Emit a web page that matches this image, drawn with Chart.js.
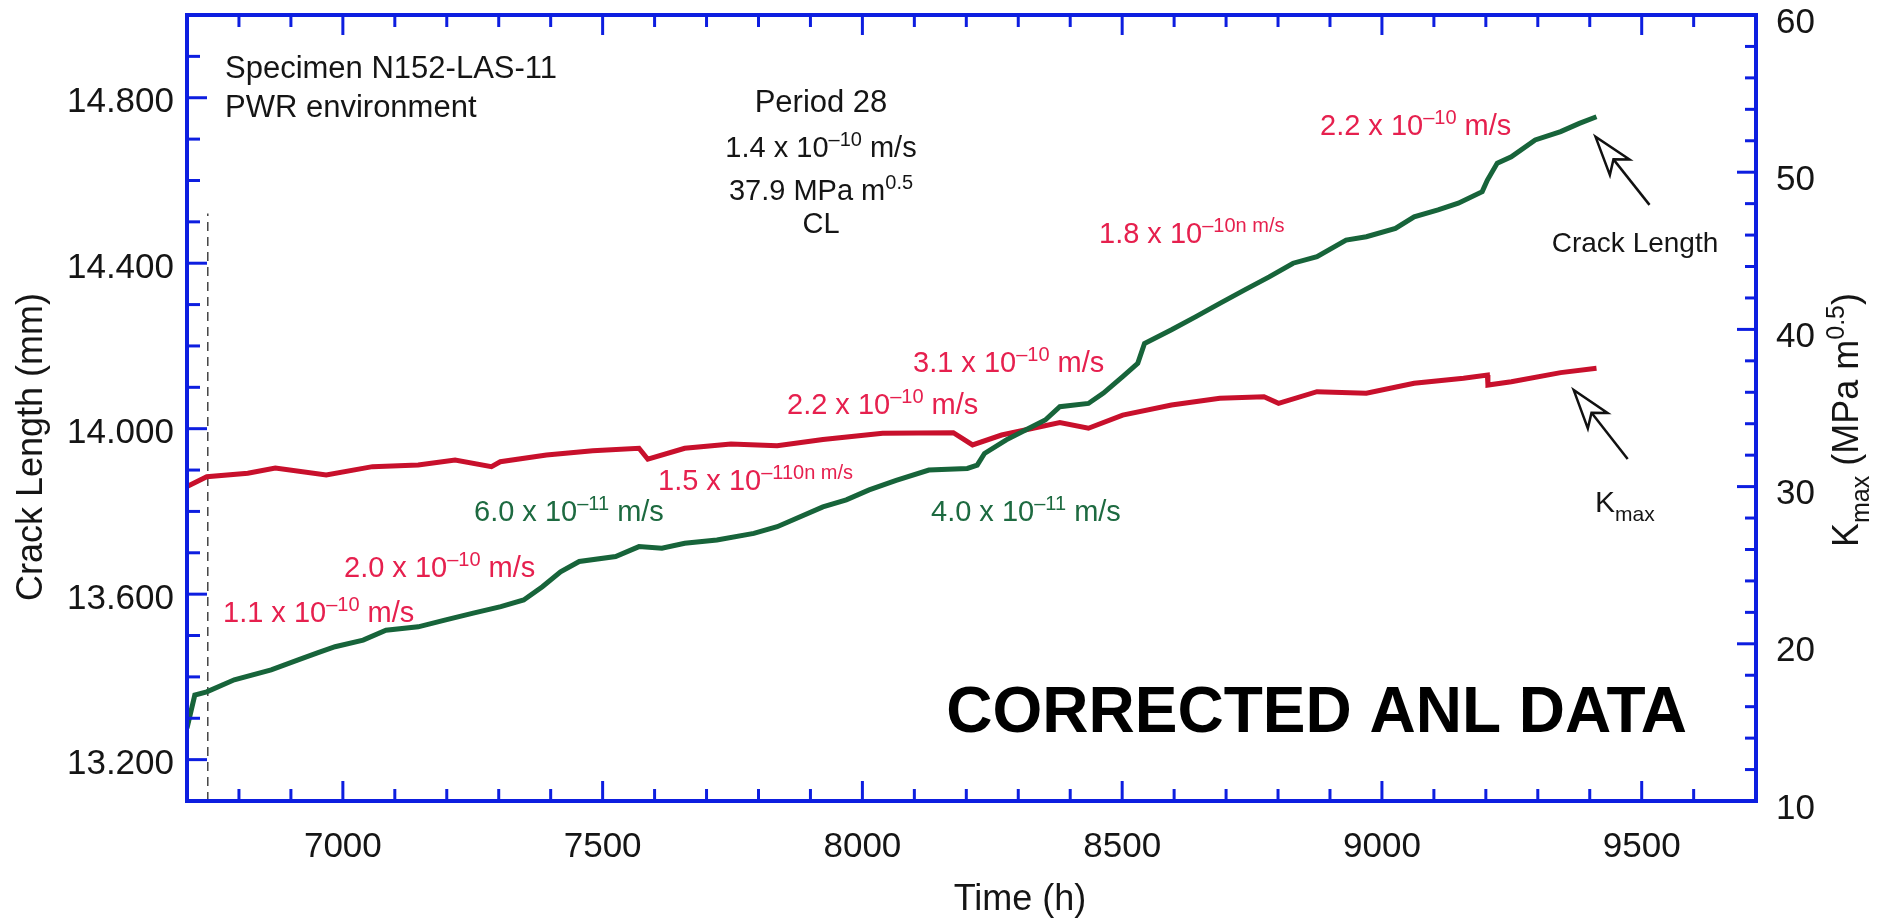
<!DOCTYPE html>
<html>
<head>
<meta charset="utf-8">
<title>Crack length and Kmax vs time</title>
<script src="https://cdn.jsdelivr.net/npm/chart.js@4.4.1/dist/chart.umd.min.js"></script>
<style>
  html, body { margin: 0; padding: 0; background: #fff; }
  #wrap { width: 1877px; height: 922px; position: relative; }
</style>
</head>
<body>
<div id="wrap"><canvas id="chart"></canvas></div>
<script>
// values
const crackTime = [6700, 6715, 6738, 6791, 6862, 6914, 6951, 6985, 7039, 7083, 7145, 7198, 7251, 7304, 7348,
  7384, 7419, 7455, 7525, 7570, 7614, 7658, 7720, 7791, 7836, 7924, 7969, 8013, 8065, 8128, 8202, 8221, 8235,
  8277, 8314, 8352, 8380, 8435, 8464, 8501, 8530, 8543, 8595, 8642, 8688, 8735, 8783, 8829, 8875, 8931, 8970,
  9026, 9062, 9108, 9147, 9193, 9203, 9222, 9249, 9295, 9344, 9380, 9413];
const crackLength = [13.276, 13.356, 13.364, 13.393, 13.417, 13.441, 13.458, 13.473, 13.489, 13.513, 13.521,
  13.538, 13.554, 13.570, 13.586, 13.618, 13.654, 13.679, 13.691, 13.715, 13.711, 13.723, 13.731, 13.747,
  13.763, 13.811, 13.828, 13.852, 13.875, 13.900, 13.904, 13.912, 13.940, 13.973, 13.997, 14.021, 14.053,
  14.061, 14.086, 14.126, 14.158, 14.206, 14.239, 14.271, 14.303, 14.335, 14.367, 14.400, 14.416, 14.456,
  14.464, 14.484, 14.512, 14.529, 14.545, 14.573, 14.601, 14.642, 14.657, 14.698, 14.718, 14.738, 14.754];

const kmaxTime = [6700, 6738, 6817, 6870, 6968, 7057, 7145, 7216, 7286, 7303, 7392, 7481, 7570, 7587, 7658,
  7747, 7836, 7924, 8039, 8175, 8212, 8268, 8380, 8435, 8501, 8595, 8688, 8773, 8801, 8875, 8970, 9062, 9157,
  9203, 9204, 9249, 9344, 9413];
const kmaxValue = [30.0, 30.63, 30.85, 31.18, 30.74, 31.27, 31.37, 31.69, 31.27, 31.58, 32.01, 32.28, 32.44,
  31.74, 32.44, 32.71, 32.6, 33.0, 33.39, 33.43, 32.65, 33.28, 34.07, 33.71, 34.55, 35.19, 35.62, 35.72, 35.3,
  36.04, 35.94, 36.57, 36.89, 37.1, 36.46, 36.67, 37.25, 37.53];

const timeTickLabels = [7000, 7500, 8000, 8500, 9000, 9500];
const crackTickLabels = ['13.200', '13.600', '14.000', '14.400', '14.800'];
const kmaxTickLabels = [10, 20, 30, 40, 50, 60];

// dashed start-of-period marker
const markerTime = [6740, 6740];
const markerCrack = [13.1, 14.52];

const BLUE = '#0d1ee0';
const GREEN = '#17643a';
const RED = '#c8102c';
const LABEL_RED = '#e6204e';
const LABEL_GREEN = '#1d6a40';
const INK = '#151515';
const FONT = '"Liberation Sans", Arial, Helvetica, sans-serif';

const toPoints = (xs, ys) => xs.map((x, i) => ({ x: x, y: ys[i] }));

// text notes, [text, 'sup'|'sub'|undefined]
const notes = [
  { x: 225, y: 78, size: 31, color: INK, parts: [['Specimen N152-LAS-11']] },
  { x: 225, y: 117, size: 31, color: INK, parts: [['PWR environment']] },
  { x: 821, y: 112, size: 31, color: INK, align: 'center', parts: [['Period 28']] },
  { x: 821, y: 157, size: 29, color: INK, align: 'center', parts: [['1.4 x 10'], ['\u201310', 'sup'], [' m/s']] },
  { x: 821, y: 200, size: 29, color: INK, align: 'center', parts: [['37.9 MPa m'], ['0.5', 'sup']] },
  { x: 821, y: 233, size: 29, color: INK, align: 'center', parts: [['CL']] },

  { x: 223, y: 622, size: 29, color: LABEL_RED, parts: [['1.1 x 10'], ['\u201310', 'sup'], [' m/s']] },
  { x: 344, y: 577, size: 29, color: LABEL_RED, parts: [['2.0 x 10'], ['\u201310', 'sup'], [' m/s']] },
  { x: 474, y: 521, size: 29, color: LABEL_GREEN, parts: [['6.0 x 10'], ['\u201311', 'sup'], [' m/s']] },
  { x: 658, y: 490, size: 29, color: LABEL_RED, parts: [['1.5 x 10'], ['\u2013110n m/s', 'sup']] },
  { x: 787, y: 414, size: 29, color: LABEL_RED, parts: [['2.2 x 10'], ['\u201310', 'sup'], [' m/s']] },
  { x: 913, y: 372, size: 29, color: LABEL_RED, parts: [['3.1 x 10'], ['\u201310', 'sup'], [' m/s']] },
  { x: 931, y: 521, size: 29, color: LABEL_GREEN, parts: [['4.0 x 10'], ['\u201311', 'sup'], [' m/s']] },
  { x: 1099, y: 243, size: 29, color: LABEL_RED, parts: [['1.8 x 10'], ['\u201310n m/s', 'sup']] },
  { x: 1320, y: 135, size: 29, color: LABEL_RED, parts: [['2.2 x 10'], ['\u201310', 'sup'], [' m/s']] },

  { x: 1635, y: 252, size: 28, color: INK, align: 'center', parts: [['Crack Length']] },
  { x: 1595, y: 512, size: 30, color: INK, parts: [['K'], ['max', 'sub']] },

  { x: 1020, y: 910, size: 36, color: INK, align: 'center', parts: [['Time (h)']] },
  { x: 42, y: 447, size: 36, color: INK, align: 'center', rotate: true, parts: [['Crack Length (mm)']] },
  { x: 1858, y: 420, size: 36, color: INK, align: 'center', rotate: true,
    parts: [['K'], ['max', 'sub'], [' (MPa m'], ['0.5', 'sup'], [')']] },

  { x: 1687, y: 732, size: 64, color: '#000', align: 'right', bold: true, parts: [['CORRECTED ANL DATA']] }
];

// arrows in data units: from tail to tip
const arrows = [
  { axis: 'y', from: [9515, 14.541], to: [9411, 14.706] },
  { axis: 'y2', from: [9473, 31.76], to: [9369, 36.15] }
];

function partFont(p, size, bold) {
  const s = p[1] ? Math.round(size * 0.7) : size;
  return (bold ? 'bold ' : '') + s + 'px ' + FONT;
}

function drawRich(ctx, note) {
  const size = note.size;
  let total = 0;
  note.parts.forEach(p => {
    ctx.font = partFont(p, size, note.bold);
    total += ctx.measureText(p[0]).width;
  });
  let cx = note.x;
  if (note.align === 'center') cx -= total / 2;
  if (note.align === 'right') cx -= total;
  note.parts.forEach(p => {
    ctx.font = partFont(p, size, note.bold);
    let dy = 0;
    if (p[1] === 'sup') dy = -0.38 * size;
    if (p[1] === 'sub') dy = 0.3 * size;
    ctx.fillText(p[0], cx, dy);
    cx += ctx.measureText(p[0]).width;
  });
}

const notesPlugin = {
  id: 'notes',
  afterDraw(chart) {
    const ctx = chart.ctx;
    ctx.save();
    ctx.textBaseline = 'alphabetic';
    ctx.textAlign = 'left';
    notes.forEach(n => {
      ctx.save();
      ctx.fillStyle = n.color;
      if (n.rotate) {
        ctx.translate(n.x, n.y);
        ctx.rotate(-Math.PI / 2);
        drawRich(ctx, Object.assign({}, n, { x: 0 }));
      } else {
        ctx.translate(0, n.y);
        drawRich(ctx, n);
      }
      ctx.restore();
    });

    // open-headed arrows
    ctx.strokeStyle = '#111';
    ctx.fillStyle = '#fff';
    ctx.lineWidth = 2.5;
    ctx.lineJoin = 'miter';
    arrows.forEach(a => {
      const sx = chart.scales.x, sy = chart.scales[a.axis];
      const x0 = sx.getPixelForValue(a.from[0]), y0 = sy.getPixelForValue(a.from[1]);
      const x1 = sx.getPixelForValue(a.to[0]), y1 = sy.getPixelForValue(a.to[1]);
      const len = Math.hypot(x0 - x1, y0 - y1);
      const ux = (x0 - x1) / len, uy = (y0 - y1) / len;
      const px = -uy, py = ux;
      const headLen = 39, half = 12.5, notch = 29;
      ctx.beginPath();
      ctx.moveTo(x1 + ux * notch, y1 + uy * notch);
      ctx.lineTo(x0, y0);
      ctx.stroke();
      ctx.beginPath();
      ctx.moveTo(x1, y1);
      ctx.lineTo(x1 + ux * headLen + px * half, y1 + uy * headLen + py * half);
      ctx.lineTo(x1 + ux * notch, y1 + uy * notch);
      ctx.lineTo(x1 + ux * headLen - px * half, y1 + uy * headLen - py * half);
      ctx.closePath();
      ctx.fill();
      ctx.stroke();
    });
    ctx.restore();
  }
};

// blue frame with inward ticks on all four sides
const framePlugin = {
  id: 'frame',
  afterDatasetsDraw(chart) {
    const { ctx, chartArea: a, scales } = chart;
    const line = (x1, y1, x2, y2) => { ctx.beginPath(); ctx.moveTo(x1, y1); ctx.lineTo(x2, y2); ctx.stroke(); };
    ctx.save();
    ctx.strokeStyle = BLUE;
    ctx.lineWidth = 3;
    scales.x.ticks.forEach(t => {
      const v = Math.round(t.value);
      if (v <= scales.x.min || v >= scales.x.max || v % 100 !== 0) return;
      const len = timeTickLabels.includes(v) ? 20 : 12;
      const px = scales.x.getPixelForValue(v);
      line(px, a.bottom, px, a.bottom - len);
      line(px, a.top, px, a.top + len);
    });
    scales.y.ticks.forEach(t => {
      const r = Math.round(t.value * 10);
      if (r <= Math.round(scales.y.min * 10) || r >= Math.round(scales.y.max * 10)) return;
      const len = crackTickLabels.includes(t.value.toFixed(3)) ? 20 : 13;
      const py = scales.y.getPixelForValue(t.value);
      line(a.left, py, a.left + len, py);
    });
    scales.y2.ticks.forEach(t => {
      const v = t.value;
      if (v <= scales.y2.min || v >= scales.y2.max) return;
      const len = kmaxTickLabels.includes(v) ? 19 : 11;
      const py = scales.y2.getPixelForValue(v);
      line(a.right, py, a.right - len, py);
    });
    ctx.lineWidth = 4;
    ctx.strokeRect(a.left, a.top, a.right - a.left, a.bottom - a.top);
    ctx.restore();
  }
};

const noPad = (w, h) => s => {
  if (w !== null) s.width = w;
  if (h !== null) s.height = h;
  s.paddingLeft = 0; s.paddingRight = 0; s.paddingTop = 0; s.paddingBottom = 0;
};

const tickFont = { family: FONT, size: 35 };

new Chart(document.getElementById('chart'), {
  type: 'line',
  data: {
    datasets: [
      {
        label: 'Crack length',
        data: toPoints(crackTime, crackLength),
        yAxisID: 'y',
        borderColor: GREEN,
        borderWidth: 5,
        pointRadius: 0,
        tension: 0
      },
      {
        label: 'Kmax',
        data: toPoints(kmaxTime, kmaxValue),
        yAxisID: 'y2',
        borderColor: RED,
        borderWidth: 5,
        pointRadius: 0,
        tension: 0
      },
      {
        label: 'start of period',
        data: toPoints(markerTime, markerCrack),
        yAxisID: 'y',
        borderColor: '#444',
        borderWidth: 1.5,
        borderDash: [9, 6],
        pointRadius: 0
      }
    ]
  },
  options: {
    responsive: true,
    maintainAspectRatio: false,
    animation: false,
    devicePixelRatio: 1,
    layout: { padding: { top: 15, left: 0, right: 0, bottom: 0 } },
    plugins: { legend: { display: false }, tooltip: { enabled: false } },
    scales: {
      x: {
        type: 'linear',
        position: 'bottom',
        min: 6700,
        max: 9720,
        grid: { display: false, drawTicks: false },
        border: { display: false },
        ticks: {
          stepSize: 100,
          autoSkip: false,
          maxRotation: 0,
          padding: 25,
          font: tickFont,
          color: INK,
          callback: v => timeTickLabels.includes(Math.round(v)) ? String(Math.round(v)) : ''
        },
        afterFit: noPad(null, 121)
      },
      y: {
        type: 'linear',
        position: 'left',
        min: 13.1,
        max: 15.0,
        grid: { display: false, drawTicks: false },
        border: { display: false },
        ticks: {
          stepSize: 0.1,
          autoSkip: false,
          padding: 13,
          labelOffset: 5,
          font: tickFont,
          color: INK,
          callback: v => crackTickLabels.includes(v.toFixed(3)) ? v.toFixed(3) : ''
        },
        afterFit: noPad(187, null)
      },
      y2: {
        type: 'linear',
        position: 'right',
        min: 10,
        max: 60,
        grid: { display: false, drawTicks: false },
        border: { display: false },
        ticks: {
          stepSize: 2,
          autoSkip: false,
          padding: 20,
          labelOffset: 8,
          font: tickFont,
          color: INK,
          callback: v => kmaxTickLabels.includes(v) ? String(v) : ''
        },
        afterFit: noPad(121, null)
      }
    }
  },
  plugins: [framePlugin, notesPlugin]
});
</script>
</body>
</html>
